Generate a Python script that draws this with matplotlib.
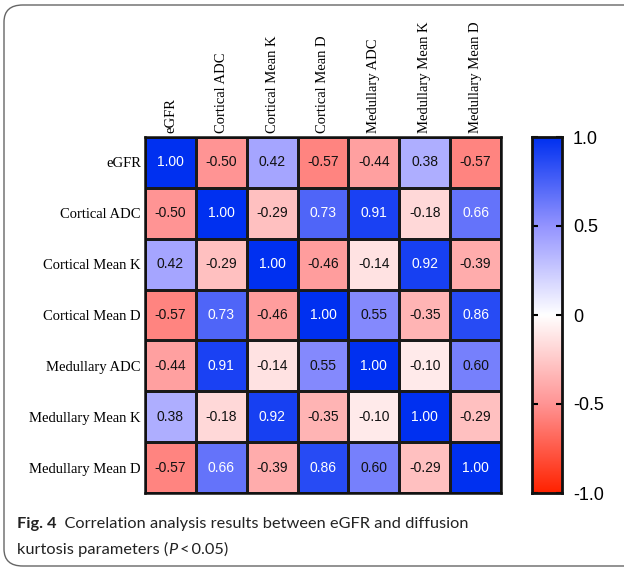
import matplotlib

matplotlib.use("Agg")
import matplotlib.pyplot as plt  # noqa: E402
import numpy as np  # noqa: E402
from matplotlib.colors import LinearSegmentedColormap  # noqa: E402
from matplotlib.patches import FancyBboxPatch  # noqa: E402

W, H = 624, 568

LABELS = ["eGFR", "Cortical ADC", "Cortical Mean K", "Cortical Mean D",
          "Medullary ADC", "Medullary Mean K", "Medullary Mean D"]
EGFR = [1.00, -0.50, 0.42, -0.57, -0.44, 0.38, -0.57]
CORT_ADC = [-0.50, 1.00, -0.29, 0.73, 0.91, -0.18, 0.66]
CORT_K = [0.42, -0.29, 1.00, -0.46, -0.14, 0.92, -0.39]
CORT_D = [-0.57, 0.73, -0.46, 1.00, 0.55, -0.35, 0.86]
MED_ADC = [-0.44, 0.91, -0.14, 0.55, 1.00, -0.10, 0.60]
MED_K = [0.38, -0.18, 0.92, -0.35, -0.10, 1.00, -0.29]
MED_D = [-0.57, 0.66, -0.39, 0.86, 0.60, -0.29, 1.00]
CBAR_TICKS = [-1.0, -0.5, 0.0, 0.5, 1.0]
CBAR_LABELS = ["-1.0", "-0.5", "0", "0.5", "1.0"]


def px(x0, y0, w, h):
    """pixel box (top-left origin) -> figure fraction rect"""
    return [x0 / W, 1 - (y0 + h) / H, w / W, h / H]


corr = np.array([EGFR, CORT_ADC, CORT_K, CORT_D, MED_ADC, MED_K, MED_D])
n = len(LABELS)
# red -> white -> blue, lighter in the mid range like the source palette
cmap = LinearSegmentedColormap.from_list(
    "rwb", [(0.0, "#ff2200"), (0.25, "#ff9494"), (0.5, "#ffffff"),
            (0.75, "#9494ff"), (1.0, "#0030f0")])

fig = plt.figure(figsize=(W / 100, H / 100), dpi=100)

# rounded frame around the whole figure (runs off the right edge like the source)
frame = FancyBboxPatch((4 / W, 2 / H), 640 / W, 561 / H,
                       boxstyle="round,pad=0,rounding_size=0.03",
                       transform=fig.transFigure, fill=False,
                       edgecolor="#666666", linewidth=1.0, clip_on=False)
fig.patches.append(frame)

ax = fig.add_axes(px(145, 137, 356, 356))
ax.pcolormesh(corr, cmap=cmap, vmin=-1, vmax=1, edgecolors="#1a1a1a", linewidth=1.0)
ax.set_xlim(0, n)
ax.set_ylim(n, 0)
for i in range(n):
    for j in range(n):
        v = corr[i, j]
        ax.text(j + 0.5, i + 0.5, f"{v:.2f}", ha="center", va="center",
                fontsize=10, family="Liberation Sans",
                color="white" if v >= 0.65 else "#111111")

ax.set_xticks(np.arange(n) + 0.5)
ax.set_yticks(np.arange(n) + 0.5)
ax.set_xticklabels(LABELS, rotation=90, family="Liberation Serif", fontsize=10.5)
ax.set_yticklabels(LABELS, family="Liberation Serif", fontsize=10.5)
ax.xaxis.tick_top()
ax.tick_params(length=0, pad=3)
for s in ax.spines.values():
    s.set_linewidth(1.8)
    s.set_color("#111111")

cax = fig.add_axes(px(532, 137, 30, 356))
grad = np.linspace(-1, 1, 256).reshape(-1, 1)
cax.imshow(grad, cmap=cmap, vmin=-1, vmax=1, aspect="auto", origin="lower",
           extent=(0, 1, -1, 1))
cax.set_xticks([])
cax.yaxis.tick_right()
cax.set_yticks(CBAR_TICKS)
cax.set_yticklabels(CBAR_LABELS, family="Liberation Sans", fontsize=13)
cax.tick_params(axis="y", direction="in", length=4, width=1.5, left=True, right=True,
                pad=8)
for s in cax.spines.values():
    s.set_linewidth(2.0)
    s.set_color("#111111")

# caption, drawn in pieces so "Fig. 4" is bold and P is italic
renderer = fig.canvas.get_renderer()


def run(pieces, x, y):
    for txt, kw in pieces:
        t = fig.text(x / W, 1 - y / H, txt, va="baseline", ha="left",
                     family="Lato", fontsize=11.8, color="#222222", **kw)
        bb = t.get_window_extent(renderer)
        x += bb.width


run([("Fig. 4", {"weight": "bold"}),
     ("  Correlation analysis results between eGFR and diffusion", {})], 17, 528)
run([("kurtosis parameters (", {}), ("P", {"style": "italic"}),
     ("\u2009<\u20090.05)", {})], 17, 554)

fig.savefig("out.png", dpi=100)
